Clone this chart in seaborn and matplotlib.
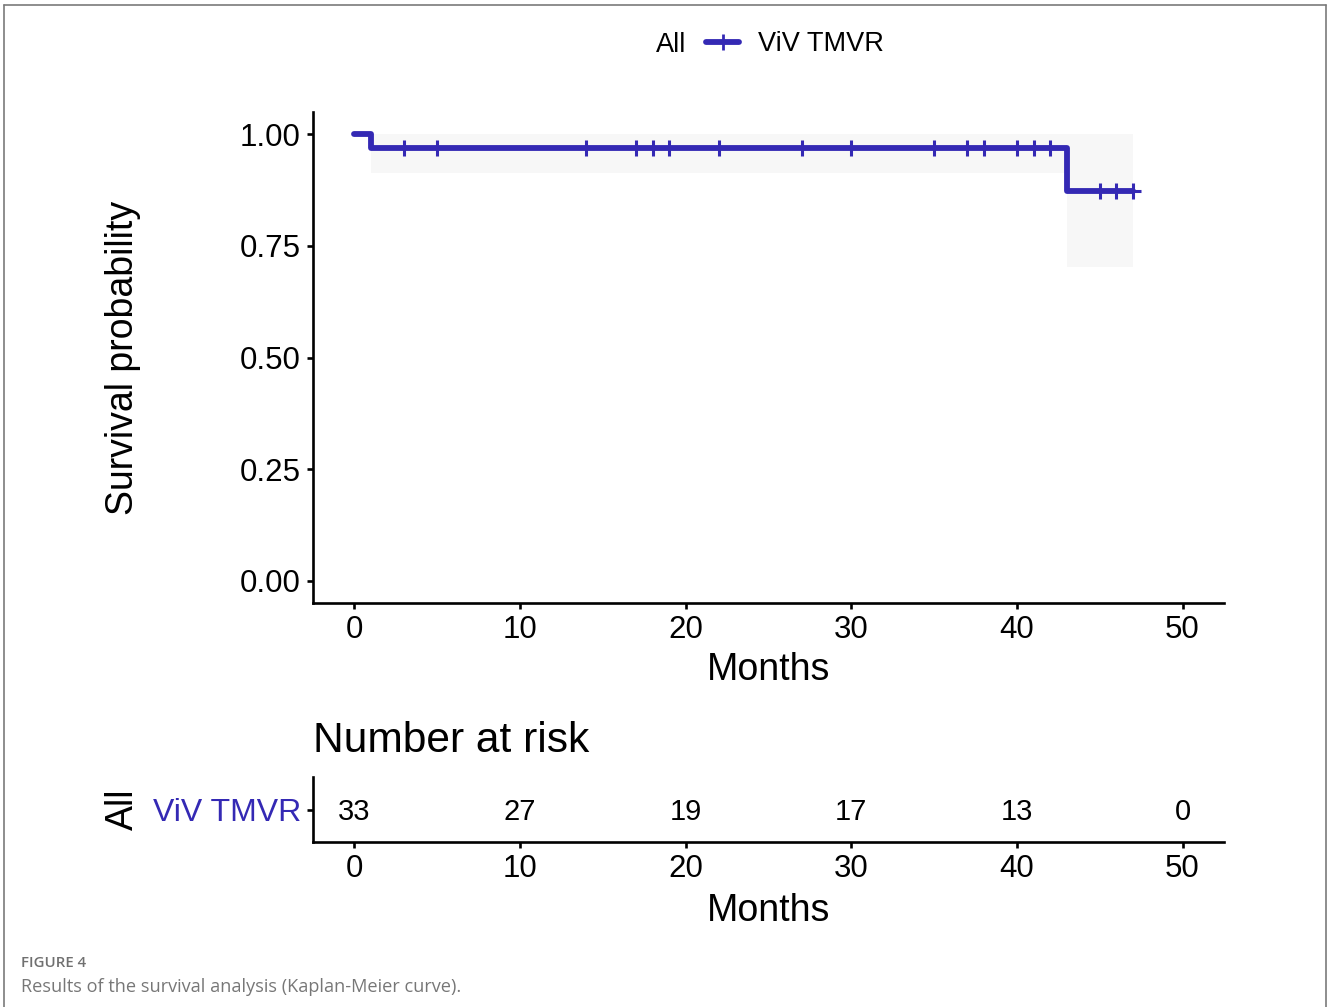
import numpy as np
import pandas as pd
import seaborn as sns
import matplotlib.pyplot as plt
from matplotlib.lines import Line2D

# Kaplan-Meier estimate (step function)
km_time = [0, 1, 43, 47]
km_surv = [1.0, 0.9697, 0.8727, 0.8727]
ci_lower = [1.0, 0.913, 0.702, 0.702]
ci_upper = [1.0, 1.0, 1.0, 1.0]

# censoring times (the "+" marks)
censor_time = [3, 5, 14, 17, 18, 19, 22, 27, 30, 35, 37, 38, 40, 41, 42, 45, 46, 47]

# number at risk table
risk_time = [0, 10, 20, 30, 40, 50]
n_risk = [33, 27, 19, 17, 13, 0]

group = "ViV TMVR"
line_col = "#3429b4"

sns.set_style("white")
plt.rcParams['font.family'] = ['Liberation Sans', 'DejaVu Sans']
plt.rcParams['text.color'] = 'black'
plt.rcParams['axes.labelcolor'] = 'black'

fig = plt.figure(figsize=(13.28, 10.07), dpi=100)
ax = fig.add_axes([313/1328, 1-603/1007, 911/1328, 491/1007])
ax_risk = fig.add_axes([313/1328, 1-842/1007, 911/1328, 65/1007])

km_df = pd.DataFrame({"time": km_time, "surv": km_surv, "strata": group})

# confidence band
ax.fill_between(km_time[1:], ci_lower[1:], ci_upper[1:], step="post",
                color="#f7f7f7", linewidth=0, zorder=1)

# survival curve
sns.lineplot(data=km_df, x="time", y="surv", drawstyle="steps-post",
             color=line_col, linewidth=4.2, estimator=None, ax=ax,
             legend=False, zorder=3)

# censor marks, looked up on the step curve
idx = np.searchsorted(km_time, censor_time, side="right") - 1
cens_df = pd.DataFrame({"time": censor_time,
                        "surv": np.array(km_surv)[idx]})
sns.scatterplot(data=cens_df, x="time", y="surv", marker="+", s=140,
                color=line_col, linewidth=2.2, ax=ax, legend=False, zorder=4)

ax.set_xlim(-2.5, 52.5)
ax.set_ylim(-0.05, 1.05)
ax.set_xticks(range(0, 51, 10))
ax.set_yticks([0, 0.25, 0.5, 0.75, 1.0])
ax.set_yticklabels(["0.00", "0.25", "0.50", "0.75", "1.00"])
ax.set_xlabel("Months", fontsize=27)
ax.set_ylabel("Survival probability", fontsize=27, va="center")
ax.xaxis.set_label_coords(0.5, -0.1)
ax.yaxis.set_label_coords(-0.2086, 0.5)

# risk table
for t, n in zip(risk_time, n_risk):
    ax_risk.text(t, 0, str(n), ha="center", va="center_baseline", fontsize=21)
ax_risk.set_xlim(-2.5, 52.5)
ax_risk.set_ylim(-0.5, 0.5)
ax_risk.set_xticks(range(0, 51, 10))
ax_risk.set_yticks([0])
ax_risk.set_yticklabels([group])
ax_risk.set_xlabel("Months", fontsize=27)
ax_risk.set_ylabel("All", fontsize=27, va="center")
ax_risk.xaxis.set_label_coords(0.5, -0.785)
ax_risk.yaxis.set_label_coords(-0.2086, 0.5)
ax_risk.set_title("Number at risk", loc="left", fontsize=30.6, pad=18)

for a in (ax, ax_risk):
    sns.despine(ax=a)
    for s in ("left", "bottom"):
        a.spines[s].set_color("black")
        a.spines[s].set_linewidth(1.9)
    a.tick_params(axis="both", direction="out", length=4.3, width=1.9,
                  color="black", labelsize=22.5, labelcolor="black", pad=4.5,
                  bottom=True, left=True)
ax_risk.tick_params(axis="y", labelsize=23, labelcolor=line_col)

# legend at the top
fig.text(671/1328, 1-42/1007, "All", ha="center", va="center_baseline", fontsize=19.5)
handle = Line2D([], [], color=line_col, linewidth=4.2, marker="+",
                markersize=12, markeredgewidth=2.0)
fig.legend([handle], [group], loc="center", bbox_to_anchor=(795/1328, 1-44/1007),
           frameon=False, fontsize=19.5, handlelength=1.2, handletextpad=0.7)

# outer frame and caption
frame_kw = dict(color="#7a7a7a", linewidth=1.2, transform=fig.transFigure)
fig.add_artist(Line2D([4/1328, 1326/1328], [1-5/1007, 1-5/1007], **frame_kw))
fig.add_artist(Line2D([4/1328, 4/1328], [0, 1-5/1007], **frame_kw))
fig.add_artist(Line2D([1326/1328, 1326/1328], [0, 1-5/1007], **frame_kw))
fig.text(21/1328, 1-963/1007, "FIGURE 4", fontsize=10.8, color="#707070",
         family=["Open Sans", "DejaVu Sans"], fontweight="semibold", va="center")
fig.text(21/1328, 1-987/1007, "Results of the survival analysis (Kaplan-Meier curve).",
         fontsize=13.1, color="#777777", family=["Open Sans", "DejaVu Sans"],
         va="center")

fig.savefig("out.png", dpi=100)
